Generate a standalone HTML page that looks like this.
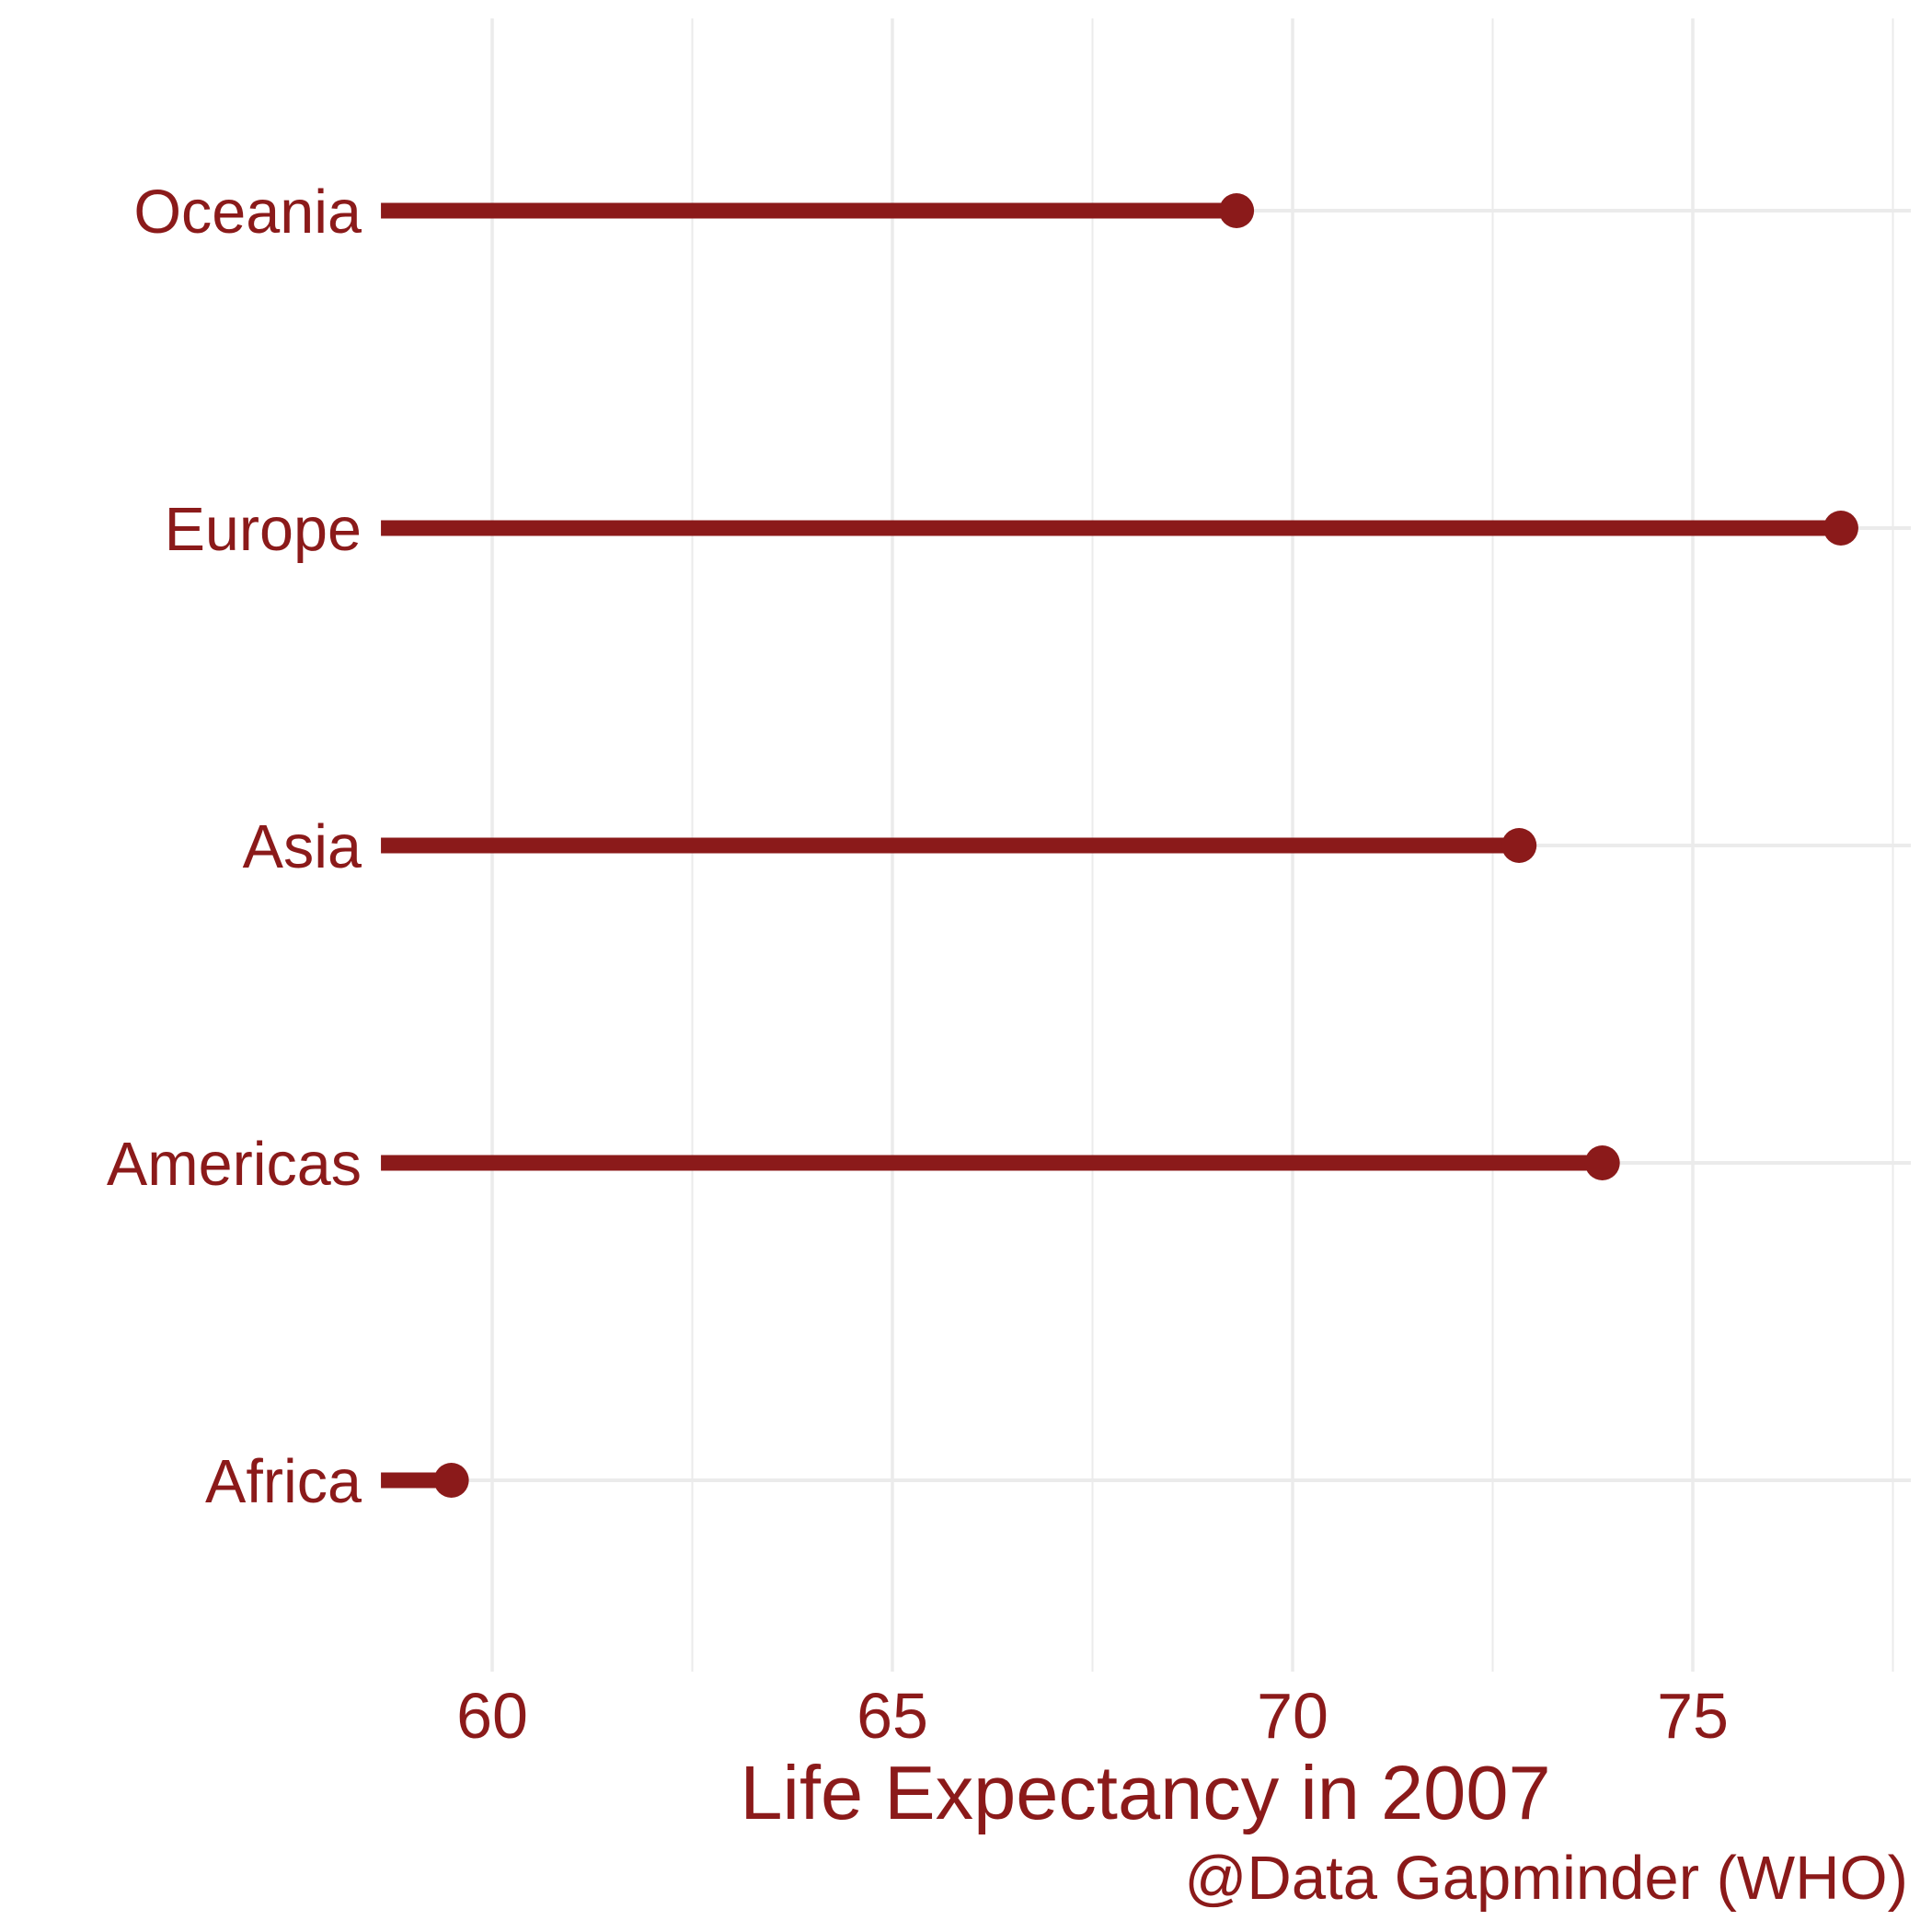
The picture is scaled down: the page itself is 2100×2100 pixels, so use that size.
<!DOCTYPE html>
<html><head><meta charset="utf-8"><style>
html,body{margin:0;padding:0;background:#fff}
svg{display:block}
text{font-family:"Liberation Sans",Arial,sans-serif;fill:#8b1a1a}
</style></head><body>
<svg id="chart" width="2100" height="2100" viewBox="0 0 2100 2100" xmlns="http://www.w3.org/2000/svg">
<g id="grid"></g>
<g id="marks"></g>
<g id="labels"></g>
<text x="1245" y="1977" font-size="83" text-anchor="middle">Life Expectancy in 2007</text>
<text x="2074" y="2064" font-size="67" text-anchor="end">@Data Gapminder (WHO)</text>
</svg>
<script>
const categories = ["Oceania","Europe","Asia","Americas","Africa"];
const values = [69.30, 76.85, 72.83, 73.87, 59.49];
const startValue = 58.61;
const xTicks = [60, 65, 70, 75];
const xTickLabels = ["60","65","70","75"];
const minorTicks = [62.5, 67.5, 72.5, 77.5];

const NS = "http://www.w3.org/2000/svg";
const plotLeft = 414, plotRight = 2077, plotTop = 20, plotBottom = 1817;
function xScale(v){ return 535 + 87 * (v - 60); }
function yScale(i){ return 229 + i * 345; }
function mk(tag, attrs, parent){ const e=document.createElementNS(NS,tag); for(const k in attrs) e.setAttribute(k,attrs[k]); parent.appendChild(e); return e; }
const grid=document.getElementById('grid'), marks=document.getElementById('marks'), labels=document.getElementById('labels');

minorTicks.forEach(t=>{
  const l=mk('line',{x1:xScale(t),x2:xScale(t),y1:plotTop,y2:plotBottom,stroke:'#ebebeb','stroke-width':2},grid);
  
  
});
xTicks.forEach((t,i)=>{
  const l=mk('line',{x1:xScale(t),x2:xScale(t),y1:plotTop,y2:plotBottom,stroke:'#ebebeb','stroke-width':3.5},grid);
  
  
  const tx=mk('text',{x:xScale(t),y:1889,'font-size':70,'text-anchor':'middle'},labels);
  tx.textContent=xTickLabels[i];
  
  
});
categories.forEach((c,i)=>{
  const y=yScale(i);
  const g=mk('line',{x1:plotLeft,x2:plotRight,y1:y,y2:y,stroke:'#ebebeb','stroke-width':4},grid);
  
  
  const seg=mk('line',{x1:xScale(startValue),x2:xScale(values[i]),y1:y,y2:y,stroke:'#8b1a1a','stroke-width':17},marks);
  
  
  const dot=mk('circle',{cx:xScale(values[i]),cy:y,r:19,fill:'#8b1a1a'},marks);
  
  
  const t=mk('text',{x:393,y:y+24,'font-size':66.5,'text-anchor':'end'},labels);
  t.textContent=c;
  
  
});
</script>
</body></html>
